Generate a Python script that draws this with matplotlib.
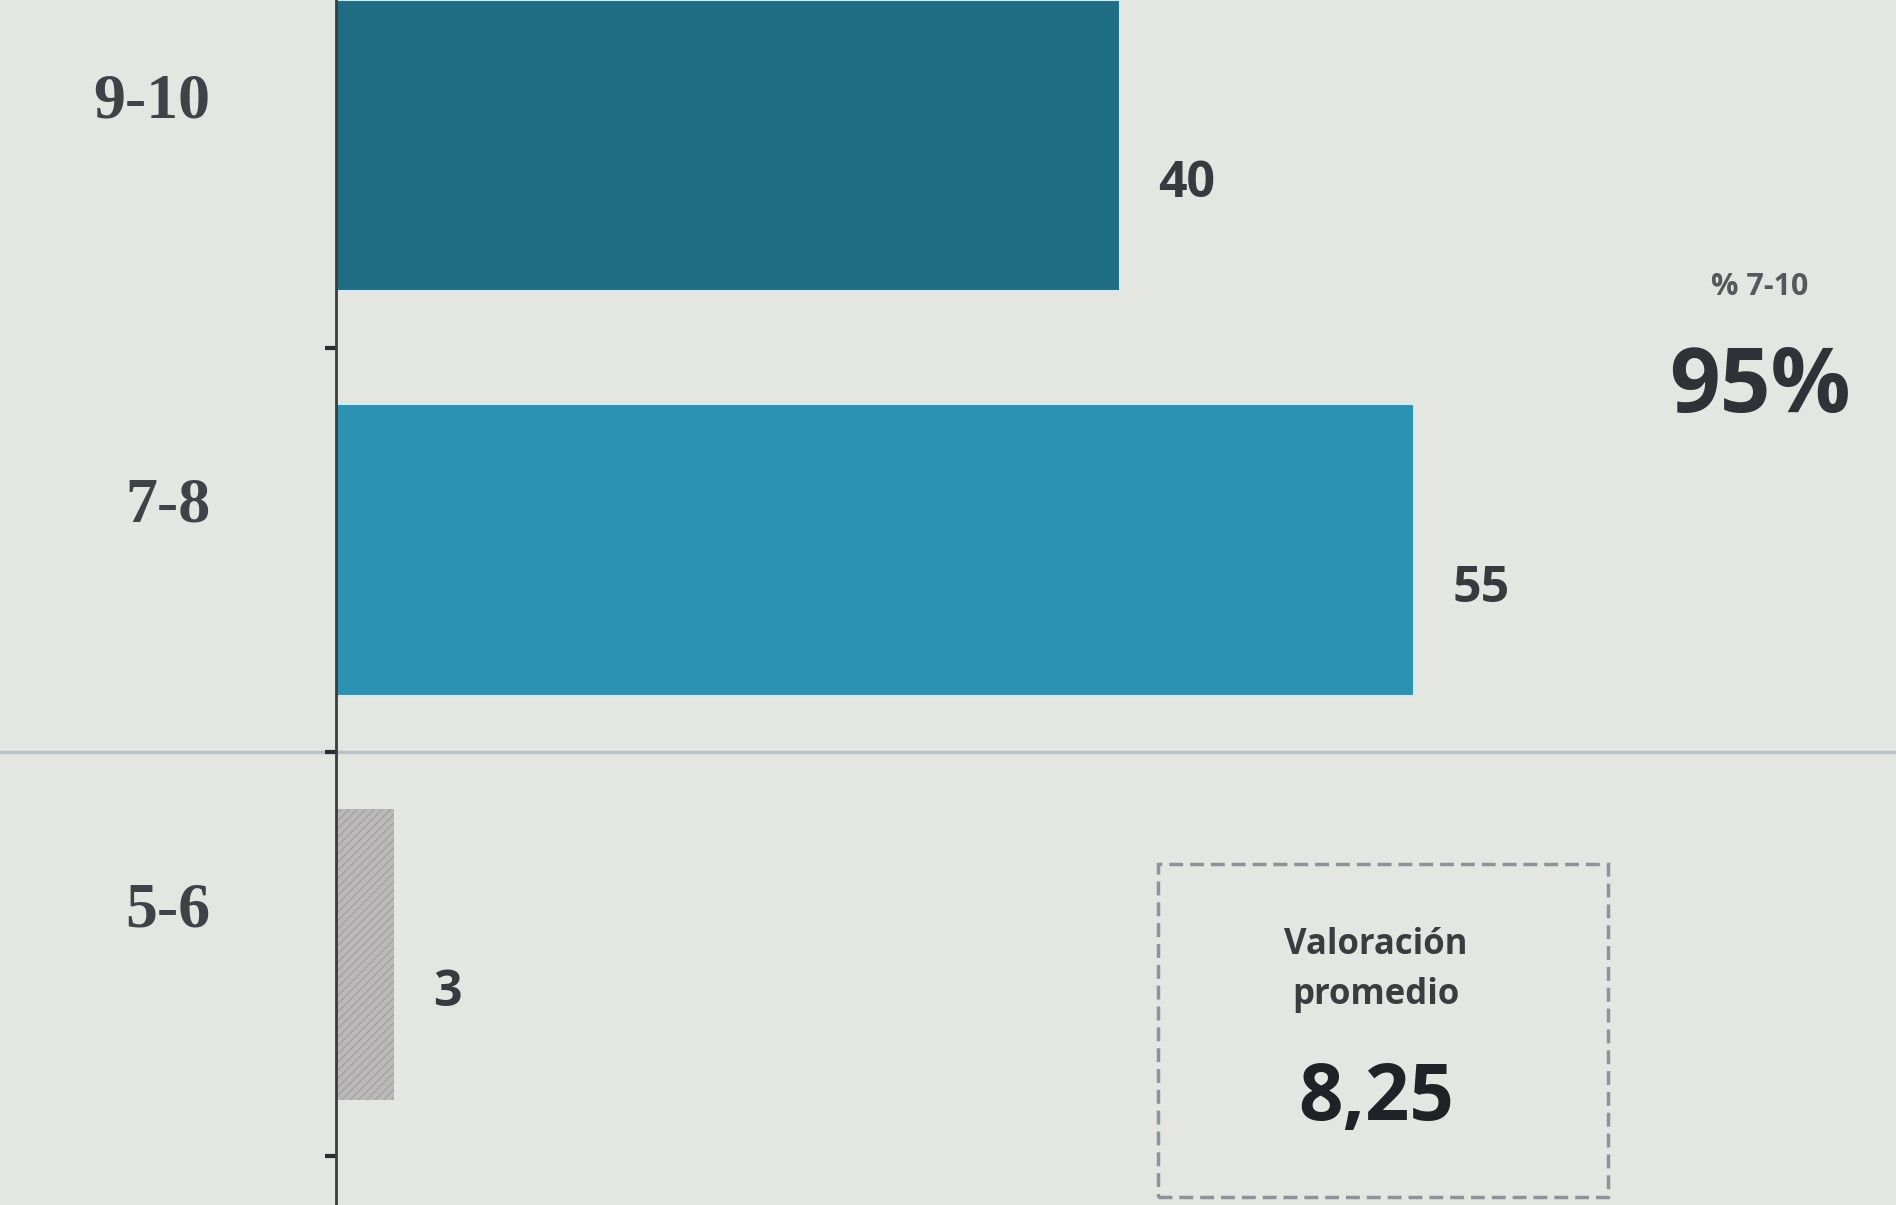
import matplotlib.pyplot as plt
import matplotlib.transforms as mtransforms
from matplotlib.patches import Rectangle

categories = ["5-6", "7-8", "9-10"]
values = [3, 55, 40]
value_labels = ["3", "55", "40"]
share_label = "% 7-10"
share_value = "95%"
avg_title = "Valoración\npromedio"
avg_value = "8,25"

bg = "#e4e6e2"
colors = ["#bab8b8", "#2b92b4", "#1f6d84"]

fig = plt.figure(figsize=(18.96, 12.05), dpi=100, facecolor=bg)
ax = fig.add_axes([0.177, 0.0, 0.823, 1.0])
ax.set_facecolor(bg)

ypos = list(range(len(categories)))
bars = ax.barh(ypos, values, height=0.72, color=colors, edgecolor="#d4e9ef", linewidth=1.5)
bars[0].set_hatch("////")
bars[0].set_edgecolor("#a3a1a1")
bars[0].set_linewidth(0)

ax.set_xlim(0, 79.6)
ax.set_ylim(-0.62, 2.36)

for s in ["top", "right", "bottom"]:
    ax.spines[s].set_visible(False)
ax.spines["left"].set_color("#3a3d40")
ax.spines["left"].set_linewidth(2)
ax.set_xticks([])

ax.set_yticks(ypos)
ax.set_yticklabels(categories, fontsize=46, fontweight="bold",
                   family="Liberation Serif", color="#3f4347")
ax.tick_params(axis="y", which="major", length=0, pad=90)
ax.set_yticks([-0.5, 0.5, 1.5], minor=True)
ax.tick_params(axis="y", which="minor", length=8, width=3, color="#2a2c2e")
offset = mtransforms.ScaledTranslation(0, 0.5, fig.dpi_scale_trans)
for lab in ax.get_yticklabels():
    lab.set_transform(lab.get_transform() + offset)

# value labels to the right of the bars
for y, v, t in zip(ypos, values, value_labels):
    ax.annotate(t, (v, y), xytext=(28, -28), textcoords="offset points",
                ha="left", va="center", fontsize=36, fontweight="bold",
                family="Open Sans", color="#373a3e")

# faint row separator between 7-8 and 5-6
trans = mtransforms.blended_transform_factory(fig.transFigure, ax.transData)
ax.plot([0, 1], [0.5, 0.5], transform=trans, color="#b9c3c6", lw=2.5,
        clip_on=False, zorder=0)

# share of 7-10
fig.text(0.928, 1 - 287 / 1205, share_label, ha="center", va="center",
         fontsize=22, fontweight="bold", family="Open Sans", color="#55595c")
fig.text(0.928, 1 - 389 / 1205, share_value, ha="center", va="center",
         fontsize=64, fontweight="bold", family="Open Sans", color="#2f3236")

# average rating box
box = Rectangle((1158 / 1896, 1 - 1197 / 1205), 450 / 1896, 333 / 1205,
                transform=fig.transFigure, fill=False, edgecolor="#8b9599",
                linewidth=2.5, linestyle=(0, (4, 2)))
fig.add_artist(box)
fig.text(1376 / 1896, 1 - 970 / 1205, avg_title, ha="center", va="center",
         fontsize=25, fontweight="bold", family="Open Sans", color="#3a3d40",
         linespacing=1.5)
fig.text(1376 / 1896, 1 - 1100 / 1205, avg_value, ha="center", va="center",
         fontsize=56, fontweight="bold", family="Open Sans", color="#1f2226")

fig.savefig("out.png", dpi=100, facecolor=bg)
